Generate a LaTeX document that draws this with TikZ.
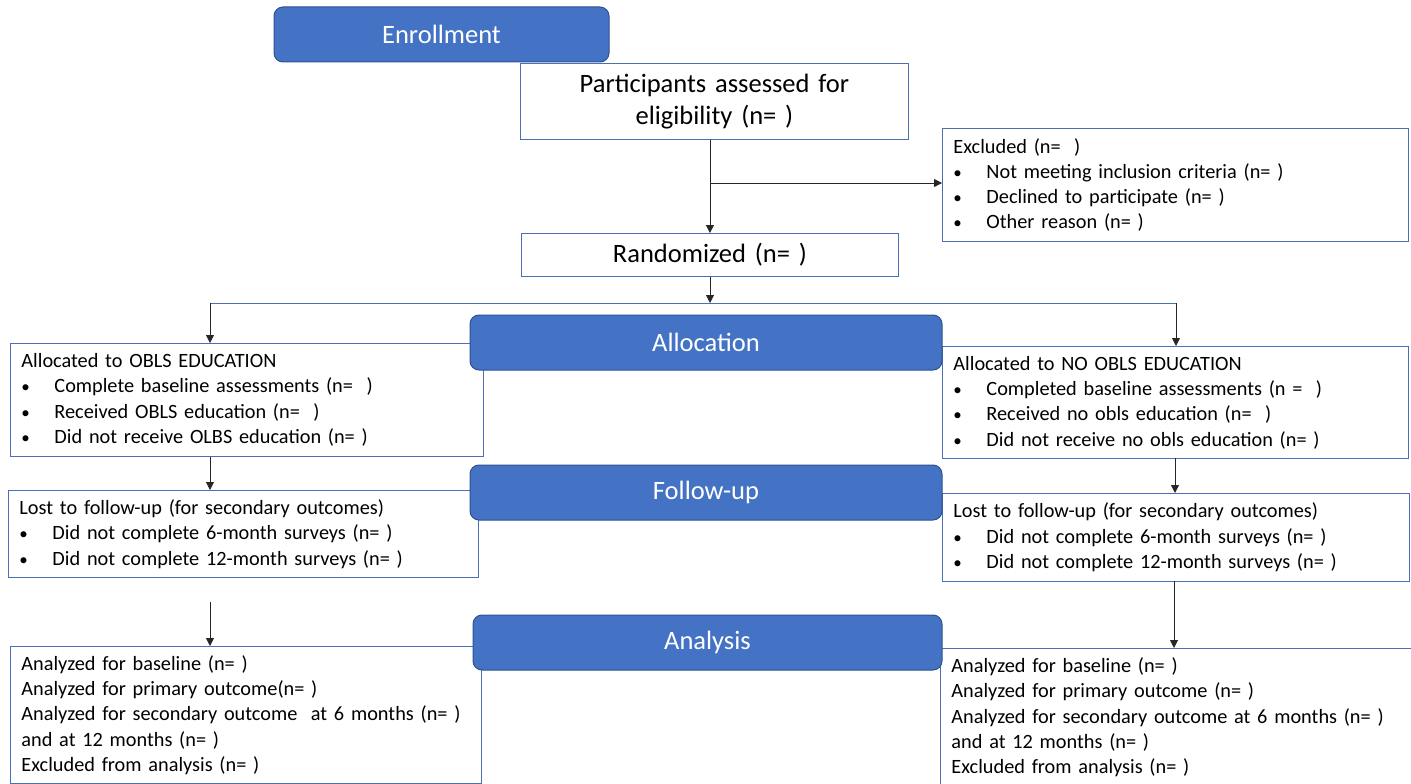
\documentclass[tikz,border=0pt]{standalone}
\usepackage{fontspec}
\setmainfont{Carlito}[WordSpace={0.8,0,0}]
\usetikzlibrary{arrows.meta}

\definecolor{stageblue}{HTML}{4472C4}
\definecolor{stageedge}{HTML}{2F528F}
\definecolor{boxedge}{HTML}{4A6FB5}
\newcommand{\bul}{\makebox[33pt][l]{\fontsize{17}{17}\selectfont\textbullet}}

\tikzset{
  stage/.style={rectangle, rounded corners=9pt, draw=stageedge, fill=stageblue, text=white,
    line width=1pt, minimum height=55pt, inner sep=0pt, font=\fontsize{26.5}{32}\selectfont},
  entry/.style={rectangle, anchor=north west, draw=boxedge, line width=0.9pt, align=left,
    inner xsep=11pt, inner ysep=0pt, font=\fontsize{20.3}{25.3}\selectfont},
  headbox/.style={entry, align=center, font=\fontsize{26.5}{32}\selectfont},
  flow/.style={-{Triangle[length=8pt,width=8pt]}, line width=0.8pt, black!85},
  rail/.style={line width=0.9pt, boxedge}
}

\begin{document}
\begin{tikzpicture}[x=1pt,y=-1pt]
\useasboundingbox (0,0) rectangle (1411,784);

% enrollment
\draw (520,63) node [headbox, text width=366pt, minimum height=76pt] (particip) {Participants assessed for\\eligibility (n= )};
\draw (942,128) node [entry, text width=444pt, minimum height=113pt] (excl)
  {Excluded (n=~~)\\ \bul Not meeting inclusion criteria (n= )\\ \bul Declined to participate (n= )\\ \bul Other reason (n= )};
\draw (521,233) node [headbox, text width=355pt, minimum height=43pt] (rand) {Randomized (n= )};

% allocation
\draw (10,343) node [entry, text width=451pt, minimum height=113pt] (allocL)
  {Allocated to OBLS EDUCATION\\ \bul Complete baseline assessments (n=~~)\\ \bul Received OBLS education (n=~~)\\ \bul Did not receive OLBS education (n= )};
\draw (942,346) node [entry, text width=444pt, minimum height=112pt] (allocR)
  {Allocated to NO OBLS EDUCATION\\ \bul Completed baseline assessments (n =~~)\\ \bul Received no obls education (n=~~)\\ \bul Did not receive no obls education (n= )};

% follow-up
\draw (8,490) node [entry, text width=448pt, minimum height=87pt] (followL)
  {Lost to follow-up (for secondary outcomes)\\ \bul Did not complete 6-month surveys (n= )\\ \bul Did not complete 12-month surveys (n= )};
\draw (942,493) node [entry, text width=445pt, minimum height=88pt] (followR)
  {Lost to follow-up (for secondary outcomes)\\ \bul Did not complete 6-month surveys (n= )\\ \bul Did not complete 12-month surveys (n= )};

% analysis
\draw (10,646) node [entry, text width=449pt, minimum height=137pt] (analysisL)
  {Analyzed for baseline (n= )\\ Analyzed for primary outcome(n= )\\ Analyzed for secondary outcome~ at 6 months (n= )\\ and at 12 months (n= )\\ Excluded from analysis (n= )};
\draw (940,648) node [entry, text width=450pt, minimum height=138pt] (analysisR)
  {Analyzed for baseline (n= )\\ Analyzed for primary outcome (n= )\\ Analyzed for secondary outcome at 6 months (n= )\\ and at 12 months (n= )\\ Excluded from analysis (n= )};

% stage banners
\draw (441.5,34.5) node [stage, minimum width=335pt] (enrol) {Enrollment};
\draw (706,342.5) node [stage, minimum width=472pt] (alloc) {Allocation};
\draw (706,492.5) node [stage, minimum width=472pt] (follow) {Follow-up};
\draw (707.5,642.5) node [stage, minimum width=469pt] (analysis) {Analysis};

% connectors
\coordinate (split) at (710,183);
\coordinate (hub) at (710,303);
\coordinate (lrail) at (210,303);
\coordinate (rrail) at (1176,303);
\coordinate (lgap) at (210,602);
\draw[rail] (lrail) -- (rrail);
\path[flow]
  (particip.south -| rand.north) edge (rand.north)
  (split) edge (split -| excl.west)
  (rand.south -| hub) edge (hub)
  (lrail) edge (lrail |- allocL.north)
  (rrail) edge (rrail |- allocR.north)
  (lrail |- allocL.south) edge (lrail |- followL.north)
  (1175,458) edge (1175,493)
  (lgap) edge (lgap |- analysisL.north)
  (1174,581) edge (1174,648);
\end{tikzpicture}
\end{document}
